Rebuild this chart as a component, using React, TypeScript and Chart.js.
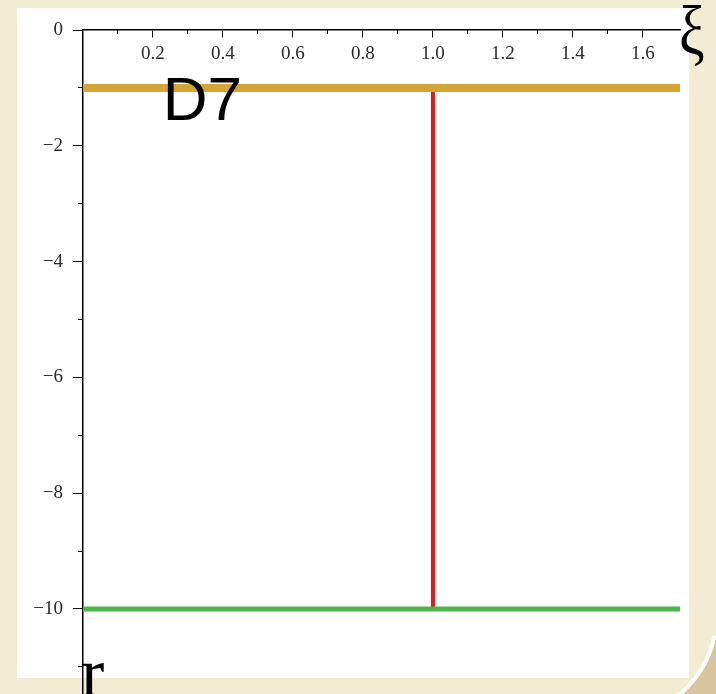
import React, { useEffect, useRef } from 'react';
import { Chart, registerables } from 'chart.js';

Chart.register(...registerables);

// Axis ranges
const X_MIN = 0;
const X_MAX = 1.706;
const Y_MIN = -11.47;
const Y_MAX = 0;

// Tick values
const xMajorTicks = [0.2, 0.4, 0.6, 0.8, 1.0, 1.2, 1.4, 1.6];
const xMinorTicks = [0.1, 0.3, 0.5, 0.7, 0.9, 1.1, 1.3, 1.5];
const yMajorTicks = [0, -2, -4, -6, -8, -10];
const yMinorTicks = [-1, -3, -5, -7, -9, -11];

// Series
const goldX = [0, 1.706];
const goldY = [-1, -1];
const redX = [1.0, 1.0];
const redY = [-1, -10];
const greenX = [0, 1.706];
const greenY = [-10, -10];

const toPts = (xs: number[], ys: number[]) => xs.map((x, i) => ({ x, y: ys[i] }));

const W = 716;
const H = 694;

const backgroundPlugin = {
  id: 'pageBackground',
  beforeDraw(chart: any) {
    const ctx = chart.ctx as CanvasRenderingContext2D;
    ctx.save();
    ctx.fillStyle = '#f2ecd3';
    ctx.fillRect(0, 0, W, H);
    ctx.fillStyle = '#ffffff';
    ctx.fillRect(17, 8, 672, 670);
    // curled corner
    const cx = 618, cy = 618, r = 98;
    ctx.save();
    ctx.beginPath();
    ctx.rect(620, 636, W - 620, H - 636);
    ctx.clip();
    ctx.beginPath();
    ctx.rect(620, 636, W - 620, H - 636);
    ctx.arc(cx, cy, r, 0, Math.PI * 2);
    ctx.fillStyle = '#d8c59f';
    ctx.fill('evenodd');
    ctx.beginPath();
    ctx.arc(cx, cy, r, 0, Math.PI / 2);
    ctx.strokeStyle = '#ffffff';
    ctx.lineWidth = 4;
    ctx.stroke();
    ctx.restore();
    ctx.restore();
  },
};

const labelPlugin = {
  id: 'axisLabels',
  afterDraw(chart: any) {
    const ctx = chart.ctx as CanvasRenderingContext2D;
    const xs = chart.scales.x;
    const ys = chart.scales.y;
    ctx.save();
    ctx.fillStyle = '#000000';
    ctx.textBaseline = 'alphabetic';
    ctx.textAlign = 'left';
    // xi at the end of the horizontal axis
    ctx.save();
    ctx.translate(xs.getPixelForValue(X_MAX) - 1, ys.getPixelForValue(0) + 24);
    ctx.scale(0.82, 1);
    ctx.font = '70px "Liberation Serif", "DejaVu Serif", serif';
    ctx.fillText('ξ', 0, 0);
    ctx.restore();
    // r at the end of the vertical axis
    ctx.font = '70px "Liberation Serif", "DejaVu Serif", serif';
    ctx.fillText('r', xs.getPixelForValue(0) - 2, ys.getPixelForValue(Y_MIN) + 2);
    // D7 label
    ctx.font = '62px "Liberation Sans", Arial, sans-serif';
    ctx.fillText('D7', xs.getPixelForValue(0.228), ys.getPixelForValue(-1) + 32);
    ctx.restore();
  },
};

const tickFont = { family: '"Liberation Serif", "Times New Roman", serif', size: 19 };

const noSpace = (s: any) => {
  s.height = 0;
  s.paddingTop = 0;
  s.paddingBottom = 0;
  s.paddingLeft = 0;
  s.paddingRight = 0;
};

export default function App() {
  const ref = useRef<HTMLCanvasElement | null>(null);

  useEffect(() => {
    if (!ref.current) return;
    const chart = new Chart(ref.current, {
      type: 'scatter',
      data: {
        datasets: [
          {
            data: toPts(redX, redY),
            showLine: true,
            borderColor: '#d71d1d',
            borderWidth: 4,
            pointRadius: 0,
            order: 3,
          },
          {
            data: toPts(greenX, greenY),
            showLine: true,
            borderColor: '#4db64b',
            borderWidth: 5,
            pointRadius: 0,
            order: 2,
          },
          {
            data: toPts(goldX, goldY),
            showLine: true,
            borderColor: '#d4a535',
            borderWidth: 8,
            pointRadius: 0,
            order: 1,
          },
        ],
      },
      options: {
        responsive: false,
        animation: false,
        events: [],
        layout: { padding: { left: 0, top: 30, right: 36, bottom: 0 } },
        plugins: { legend: { display: false }, tooltip: { enabled: false } },
        scales: {
          x: {
            type: 'linear',
            position: { y: 0 } as any,
            min: X_MIN,
            max: X_MAX,
            afterBuildTicks: (s: any) => {
              s.ticks = xMajorTicks.map((v) => ({ value: v }));
            },
            afterFit: noSpace,
            grid: { drawOnChartArea: false, drawTicks: true, tickLength: 7, tickColor: '#111', tickWidth: 1 },
            border: { display: true, color: '#000', width: 1.5 },
            ticks: {
              padding: 6,
              color: '#2a2a2a',
              font: tickFont,
              maxRotation: 0,
              autoSkip: false,
              callback: (v: any) => Number(v).toFixed(1),
            },
          },
          x2: {
            type: 'linear',
            position: { y: 0 } as any,
            min: X_MIN,
            max: X_MAX,
            afterBuildTicks: (s: any) => {
              s.ticks = xMinorTicks.map((v) => ({ value: v }));
            },
            afterFit: noSpace,
            grid: { drawOnChartArea: false, drawTicks: true, tickLength: 4, tickColor: '#111', tickWidth: 1 },
            border: { display: false },
            ticks: { display: false, autoSkip: false },
          },
          y: {
            type: 'linear',
            position: 'left',
            min: Y_MIN,
            max: Y_MAX,
            afterBuildTicks: (s: any) => {
              s.ticks = yMajorTicks.map((v) => ({ value: v }));
            },
            afterFit: (s: any) => {
              s.width = 83;
              s.paddingTop = 0;
              s.paddingBottom = 0;
            },
            grid: { drawOnChartArea: false, drawTicks: true, tickLength: 10, tickColor: '#111', tickWidth: 1 },
            border: { display: true, color: '#000', width: 1.5 },
            ticks: {
              padding: 10,
              color: '#2a2a2a',
              font: tickFont,
              autoSkip: false,
              callback: (v: any) => (Number(v) === 0 ? '0' : '\u2212' + Math.abs(Number(v))),
            },
          },
          y2: {
            type: 'linear',
            position: { x: 0 } as any,
            min: Y_MIN,
            max: Y_MAX,
            afterBuildTicks: (s: any) => {
              s.ticks = yMinorTicks.map((v) => ({ value: v }));
            },
            afterFit: (s: any) => {
              s.width = 0;
              s.paddingTop = 0;
              s.paddingBottom = 0;
            },
            grid: { drawOnChartArea: false, drawTicks: true, tickLength: 5, tickColor: '#111', tickWidth: 1 },
            border: { display: false },
            ticks: { display: false, autoSkip: false },
          },
        },
      },
      plugins: [backgroundPlugin, labelPlugin],
    } as any);
    return () => chart.destroy();
  }, []);

  return (
    <div style={{ position: 'fixed', left: 0, top: 0, width: W, height: H }}>
      <canvas ref={ref} width={W} height={H} style={{ display: 'block', width: W, height: H }} />
    </div>
  );
}
